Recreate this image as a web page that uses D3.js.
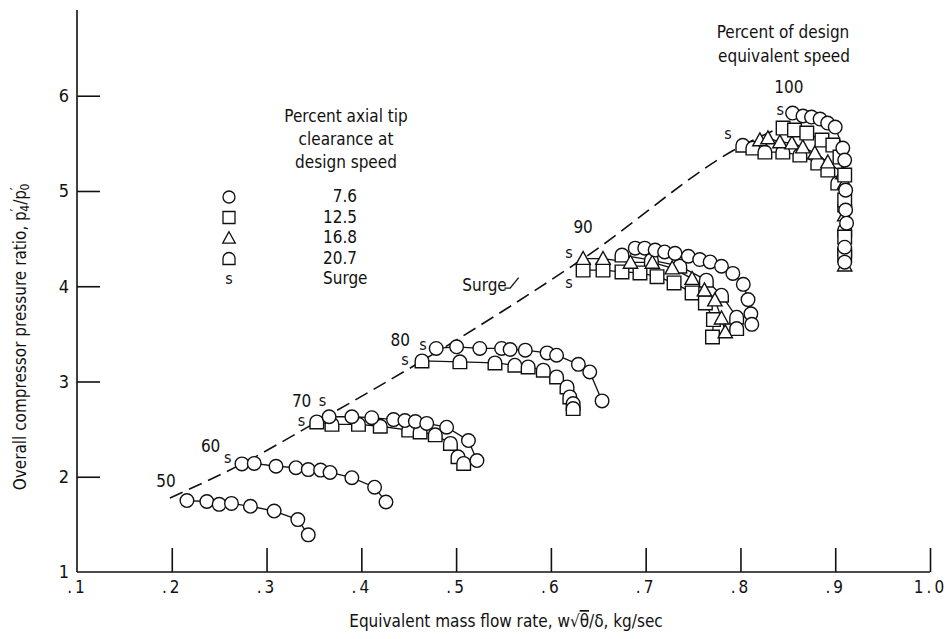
<!DOCTYPE html>
<html>
<head>
<meta charset="utf-8">
<script src="https://cdn.jsdelivr.net/npm/d3@7"></script>
<style>
  html, body { margin: 0; padding: 0; background: #fff; }
  svg { display: block; }
  text { font-family: "Liberation Sans Narrow", "DejaVu Sans Condensed", "Arial Narrow", sans-serif; fill: #111; }
</style>
</head>
<body>
<svg id="chart" width="950" height="639"></svg>
<script>
// ---------------- data ----------------
const xTicks = [0.1, 0.2, 0.3, 0.4, 0.5, 0.6, 0.7, 0.8, 0.9, 1.0];
const yTicks = [1, 2, 3, 4, 5, 6];

// clearance legend
const clearances = ["7.6", "12.5", "16.8", "20.7"];
const symbolsOrder = ["circle", "square", "triangle", "dshape"];

// 50 % speed
const sp50_circle = [[0.216,1.75],[0.237,1.74],[0.25,1.71],[0.263,1.72],[0.283,1.69],[0.308,1.64],[0.333,1.55],[0.344,1.39]];
// 60 % speed
const sp60_circle = [[0.274,2.135],[0.287,2.14],[0.31,2.11],[0.331,2.095],[0.344,2.075],[0.357,2.07],[0.367,2.045],[0.39,1.99],[0.414,1.89],[0.426,1.735]];
// 70 % speed
const sp70_circle = [[0.366,2.63],[0.39,2.63],[0.411,2.62],[0.434,2.60],[0.446,2.59],[0.457,2.58],[0.469,2.56],[0.49,2.52],[0.513,2.38],[0.522,2.17]];
const sp70_dshape = [[0.353,2.576],[0.369,2.55],[0.397,2.55],[0.42,2.53],[0.45,2.49],[0.462,2.47],[0.478,2.44],[0.494,2.35],[0.502,2.21],[0.508,2.14]];
// 80 % speed
const sp80_circle = [[0.479,3.347],[0.5005,3.364],[0.525,3.347],[0.548,3.347],[0.557,3.336],[0.573,3.329],[0.596,3.30],[0.606,3.276],[0.629,3.18],[0.641,3.10],[0.654,2.796]];
const sp80_dshape = [[0.464,3.216],[0.504,3.206],[0.541,3.195],[0.562,3.171],[0.576,3.153],[0.592,3.119],[0.606,3.048],[0.617,2.943],[0.62,2.838],[0.6235,2.769],[0.6235,2.716]];
// 90 % speed
const sp90_circle = [[0.689,4.40],[0.699,4.40],[0.71,4.38],[0.72,4.36],[0.731,4.345],[0.745,4.315],[0.757,4.28],[0.768,4.255],[0.78,4.21],[0.792,4.135],[0.803,4.02],[0.808,3.86],[0.811,3.71],[0.812,3.60]];
const sp90_square = [[0.634,4.17],[0.655,4.17],[0.675,4.15],[0.694,4.14],[0.712,4.10],[0.730,4.035],[0.749,3.93],[0.763,3.825],[0.7715,3.65],[0.7705,3.467]];
const sp90_triangle = [[0.634,4.29],[0.655,4.29],[0.684,4.25],[0.707,4.25],[0.728,4.19],[0.749,4.08],[0.762,3.96],[0.773,3.855],[0.780,3.665],[0.784,3.52]];
const sp90_dshape = [[0.675,4.327],[0.706,4.275],[0.736,4.211],[0.764,4.064],[0.780,3.906],[0.796,3.675],[0.796,3.556]];
// 100 % speed
const sp100_circle = [[0.855,5.818],[0.866,5.787],[0.875,5.776],[0.884,5.755],[0.892,5.713],[0.90,5.671],[0.908,5.45],[0.91,5.324],[0.911,5.009],[0.911,4.80],[0.912,4.662],[0.91,4.41],[0.91,4.253]];
const sp100_square = [[0.845,5.66],[0.857,5.64],[0.870,5.608],[0.886,5.534],[0.8975,5.482],[0.905,5.356],[0.91,5.167],[0.91,4.905],[0.91,4.516],[0.91,4.327]];
const sp100_triangle = [[0.8205,5.535],[0.829,5.556],[0.8416,5.514],[0.8543,5.503],[0.8658,5.461],[0.8785,5.398],[0.8922,5.303],[0.908,5.188],[0.91,5.083],[0.91,4.747],[0.91,4.221]];
const sp100_dshape = [[0.8025,5.48],[0.8131,5.45],[0.8258,5.408],[0.8447,5.408],[0.8627,5.377],[0.8816,5.293],[0.8922,5.219],[0.9027,5.083],[0.91,4.852],[0.91,4.59],[0.91,4.38]];

// surge line
const surgeLine = [[0.198,1.777],[0.274,2.135],[0.353,2.576],[0.464,3.216],[0.637,4.31],[0.8025,5.48],[0.836,5.64]];

// speed labels
const speedNames = ["50", "60", "70", "80", "90", "100"];
const speedLabelPos = [[0.194,1.94],[0.241,2.31],[0.337,2.785],[0.441,3.43],[0.634,4.61],[0.851,6.08]];
// surge "s" markers
const surgeMarks = [[0.259,2.19],[0.359,2.79],[0.337,2.58],[0.465,3.38],[0.446,3.22],[0.619,4.345],[0.619,4.03],[0.842,5.85],[0.787,5.59]];

// ---------------- drawing ----------------
const svg = d3.select("#chart");
const x = d3.scaleLinear().domain([0.1, 1.0]).range([77, 930]);
const y = d3.scaleLinear().domain([1, 6.9]).range([572, 10]);

const series = [
  {d: sp50_circle, s: "circle"},
  {d: sp60_circle, s: "circle"},
  {d: sp70_dshape, s: "dshape"},
  {d: sp70_circle, s: "circle"},
  {d: sp80_dshape, s: "dshape"},
  {d: sp80_circle, s: "circle"},
  {d: sp90_dshape, s: "dshape"},
  {d: sp90_square, s: "square"},
  {d: sp90_triangle, s: "triangle"},
  {d: sp90_circle, s: "circle"},
  {d: sp100_dshape, s: "dshape"},
  {d: sp100_triangle, s: "triangle"},
  {d: sp100_square, s: "square"},
  {d: sp100_circle, s: "circle"}
];

const R = 6.8;
function shapePath(s, r) {
  if (s === "circle") return `M${-r},0A${r},${r} 0 1,0 ${r},0A${r},${r} 0 1,0 ${-r},0Z`;
  if (s === "square") return `M${-r},${-r}H${r}V${r}H${-r}Z`;
  if (s === "triangle") return `M0,${-r*1.05}L${r*1.05},${r*0.85}H${-r*1.05}Z`;
  if (s === "dshape") return `M${-r},${r}V0A${r},${r} 0 0,1 ${r},0V${r}Z`;
}

// axes
const xAxis = d3.axisBottom(x).tickValues(xTicks).tickSize(-24).tickPadding(9)
  .tickFormat(v => v >= 1 ? "1.0" : "." + Math.round(v * 10));
const gx = svg.append("g").attr("transform", `translate(0,${y(1)})`).call(xAxis);
gx.select(".domain").attr("d", `M${x(0.1)},0H${x(1.0)}`).attr("stroke", "#111").attr("stroke-width", 1.6);
gx.selectAll(".tick line").attr("stroke", "#111").attr("stroke-width", 1.6)
  .filter(d => d === 0.1).remove();
gx.selectAll(".tick text").attr("font-size", 17).style("letter-spacing", "3px")
  .attr("font-family", "'Liberation Sans Narrow','DejaVu Sans Condensed',sans-serif").attr("fill", "#111");

const yAxis = d3.axisLeft(y).tickValues(yTicks).tickSize(-23).tickPadding(8).tickFormat(d3.format("d"));
const gy = svg.append("g").attr("transform", `translate(${x(0.1)},0)`).call(yAxis);
gy.select(".domain").attr("d", `M0,${y(1)}V${y(6.9)}`).attr("stroke", "#111").attr("stroke-width", 1.6);
gy.selectAll(".tick line").attr("stroke", "#111").attr("stroke-width", 1.6)
  .filter(d => d === 1).remove();
gy.selectAll(".tick text").attr("font-size", 18)
  .attr("font-family", "'Liberation Sans Narrow','DejaVu Sans Condensed',sans-serif").attr("fill", "#111");

// surge line
svg.append("path")
  .datum(surgeLine)
  .attr("d", d3.line().x(d => x(d[0])).y(d => y(d[1])).curve(d3.curveMonotoneX))
  .attr("fill", "none").attr("stroke", "#111").attr("stroke-width", 1.6)
  .attr("stroke-dasharray", "14,7");

// series lines
const line = d3.line().x(d => x(d[0])).y(d => y(d[1]));
series.forEach(se => {
  svg.append("path").datum(se.d).attr("d", line)
    .attr("fill", "none").attr("stroke", "#111").attr("stroke-width", 1.3);
});
// markers
series.forEach(se => {
  svg.append("g").selectAll("path").data(se.d).join("path")
    .attr("transform", d => `translate(${x(d[0])},${y(d[1])})`)
    .attr("d", shapePath(se.s, R))
    .attr("fill", "#fff").attr("stroke", "#111").attr("stroke-width", 1.4);
});

// speed labels
svg.append("g").selectAll("text").data(speedNames).join("text")
  .attr("x", (d, i) => x(speedLabelPos[i][0]))
  .attr("y", (d, i) => y(speedLabelPos[i][1]))
  .attr("text-anchor", "middle").attr("dominant-baseline", "middle")
  .attr("font-size", 17).text(d => d);

// surge "s"
svg.append("g").selectAll("text").data(surgeMarks).join("text")
  .attr("x", d => x(d[0])).attr("y", d => y(d[1]))
  .attr("text-anchor", "middle").attr("dominant-baseline", "middle")
  .attr("font-size", 16).text("s");

// "Surge" label with leader
svg.append("text").attr("x", x(0.53)).attr("y", y(4.0)).attr("text-anchor", "middle")
  .attr("dominant-baseline", "middle").attr("font-size", 17).text("Surge");
svg.append("path")
  .attr("d", `M${x(0.551)},${y(3.98)}H${x(0.557)}L${x(0.566)},${y(4.09)}`)
  .attr("fill", "none").attr("stroke", "#111").attr("stroke-width", 1.3);

// legend
const legTitle = ["Percent axial tip", "clearance at", "design speed"];
svg.append("g").selectAll("text").data(legTitle).join("text")
  .attr("x", 346).attr("y", (d, i) => 117 + i * 23)
  .attr("text-anchor", "middle").attr("dominant-baseline", "middle")
  .attr("font-size", 17).text(d => d);
const legRows = symbolsOrder.map((s, i) => ({s, label: clearances[i]}));
const legY = i => 197 + i * 20.5;
legRows.forEach((r, i) => {
  svg.append("path").attr("transform", `translate(229,${legY(i)})`)
    .attr("d", shapePath(r.s, 6)).attr("fill", "#fff").attr("stroke", "#111").attr("stroke-width", 1.3);
  svg.append("text").attr("x", 357).attr("y", legY(i)).attr("text-anchor", "end")
    .attr("dominant-baseline", "middle").attr("font-size", 17).text(r.label);
});
svg.append("text").attr("x", 229).attr("y", legY(4)).attr("text-anchor", "middle")
  .attr("dominant-baseline", "middle").attr("font-size", 16).text("s");
svg.append("text").attr("x", 323).attr("y", legY(4)).attr("text-anchor", "start")
  .attr("dominant-baseline", "middle").attr("font-size", 17).text("Surge");

// speed legend title
svg.append("text").attr("x", 783).attr("y", 33).attr("text-anchor", "middle")
  .attr("dominant-baseline", "middle").attr("font-size", 17).text("Percent of design");
svg.append("text").attr("x", 784).attr("y", 57).attr("text-anchor", "middle")
  .attr("dominant-baseline", "middle").attr("font-size", 17).text("equivalent speed");

// axis titles
const xt = svg.append("text").attr("x", 506).attr("y", 622).attr("text-anchor", "middle")
  .attr("dominant-baseline", "middle").attr("font-size", 17);
xt.append("tspan").text("Equivalent mass flow rate, w\u221A");
xt.append("tspan").style("text-decoration", "overline").text("\u03B8");
xt.append("tspan").text("/\u03B4, kg/sec");

const yt = svg.append("text").attr("transform", "translate(21,337) rotate(-90)")
  .attr("text-anchor", "middle").attr("dominant-baseline", "middle").attr("font-size", 17);
yt.append("tspan").text("Overall compressor pressure ratio, p");
yt.append("tspan").attr("font-size", 12).attr("dy", -6).text("\u2032");
yt.append("tspan").attr("font-size", 12).attr("dx", -3).attr("dy", 10).text("4");
yt.append("tspan").attr("dy", -4).text("/p");
yt.append("tspan").attr("font-size", 12).attr("dy", -6).text("\u2032");
yt.append("tspan").attr("font-size", 12).attr("dx", -3).attr("dy", 10).text("0");
</script>
</body>
</html>
